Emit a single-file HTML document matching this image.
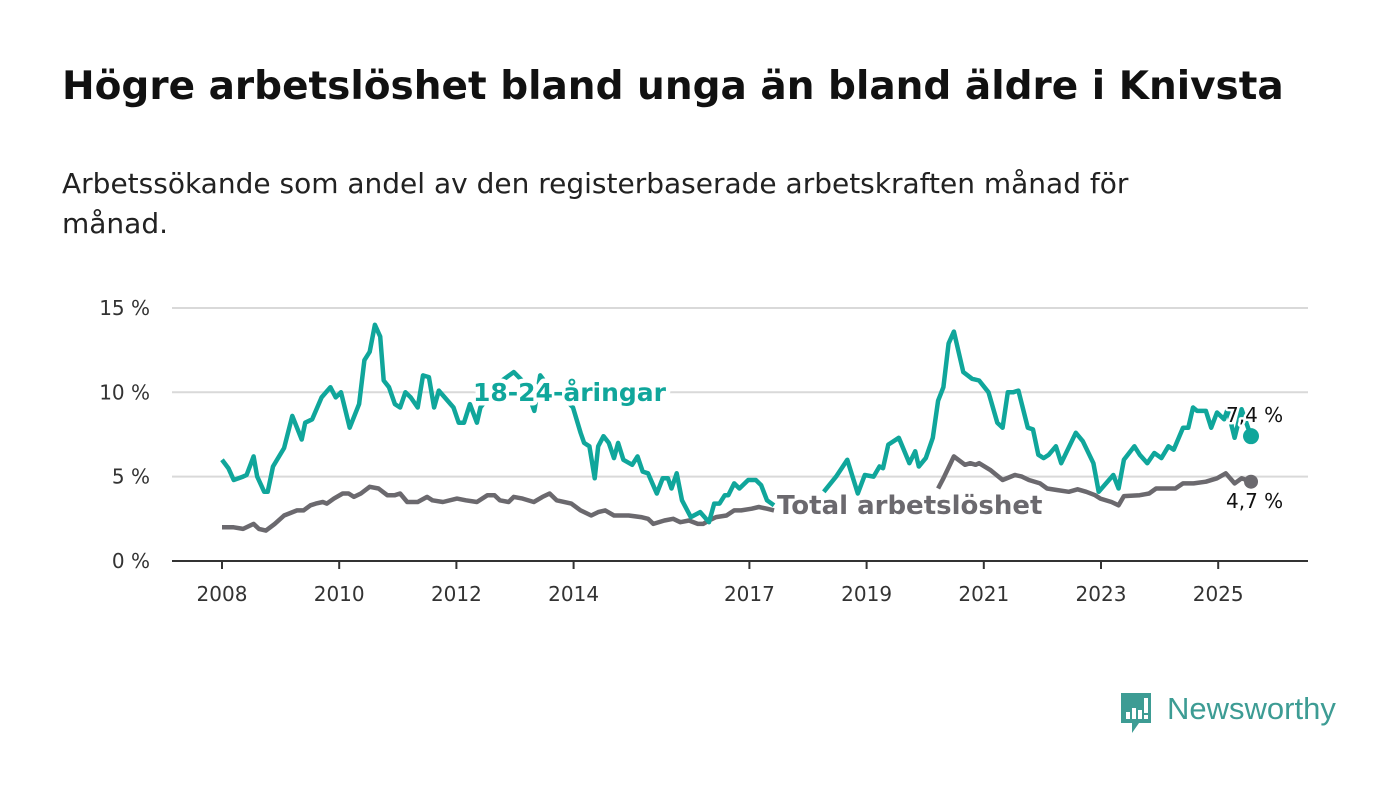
<!DOCTYPE html>
<html><head><meta charset="utf-8"><style>
html,body{margin:0;padding:0;background:#fff;}
body{width:1400px;height:794px;position:relative;overflow:hidden;font-family:"DejaVu Sans",sans-serif;}
#title{position:absolute;left:62px;top:64px;font-size:39px;font-weight:bold;color:#111;margin:0;white-space:nowrap;font-family:"DejaVu Sans",sans-serif;}
#sub{position:absolute;left:62px;top:164px;width:1180px;font-size:28px;line-height:40px;color:#222;font-family:"DejaVu Sans",sans-serif;}
svg{position:absolute;left:0;top:0;}
</style></head><body>
<h1 id="title">Högre arbetslöshet bland unga än bland äldre i Knivsta</h1>
<div id="sub">Arbetssökande som andel av den registerbaserade arbetskraften månad för månad.</div>
<svg id="chart" width="1400" height="794"></svg>
<script>
const yTicks=[0,5,10,15];
const yTickLabels=["0 %","5 %","10 %","15 %"];
const xTicks=[2008,2010,2012,2014,2017,2019,2021,2023,2025];
const youthT=[2008.0,2008.11,2008.2,2008.36,2008.42,2008.54,2008.6,2008.72,2008.78,2008.87,2009.06,2009.2,2009.36,2009.42,2009.54,2009.7,2009.85,2009.94,2010.03,2010.18,2010.34,2010.43,2010.52,2010.61,2010.7,2010.76,2010.85,2010.95,2011.04,2011.13,2011.22,2011.34,2011.43,2011.53,2011.62,2011.7,2011.8,2011.95,2012.04,2012.13,2012.23,2012.35,2012.41,2012.5,2012.7,2012.98,2013.15,2013.33,2013.43,2013.6,2013.8,2013.99,2014.12,2014.18,2014.27,2014.36,2014.42,2014.51,2014.6,2014.69,2014.76,2014.85,2015.0,2015.09,2015.18,2015.27,2015.42,2015.52,2015.61,2015.67,2015.76,2015.85,2016.0,2016.16,2016.31,2016.4,2016.49,2016.58,2016.64,2016.74,2016.83,2016.98,2017.11,2017.2,2017.3,2017.42,2017.8,2018.27,2018.48,2018.67,2018.85,2018.97,2019.12,2019.22,2019.28,2019.37,2019.55,2019.73,2019.83,2019.89,2020.01,2020.13,2020.22,2020.31,2020.4,2020.49,2020.65,2020.8,2020.92,2021.08,2021.23,2021.32,2021.41,2021.5,2021.59,2021.75,2021.84,2021.93,2022.02,2022.11,2022.23,2022.32,2022.57,2022.69,2022.87,2022.96,2023.21,2023.3,2023.39,2023.57,2023.66,2023.79,2023.91,2024.03,2024.15,2024.24,2024.4,2024.49,2024.57,2024.64,2024.79,2024.88,2024.98,2025.1,2025.16,2025.28,2025.4,2025.56];
const youthV=[6.0,5.5,4.8,5.0,5.1,6.2,5.0,4.1,4.1,5.6,6.7,8.6,7.2,8.2,8.4,9.7,10.3,9.7,10.0,7.9,9.3,11.9,12.4,14.0,13.3,10.7,10.3,9.3,9.1,10.0,9.7,9.1,11.0,10.9,9.1,10.1,9.7,9.1,8.2,8.2,9.3,8.2,9.1,9.5,10.5,11.2,10.6,8.9,11.0,10.2,9.8,9.1,7.6,7.0,6.8,4.9,6.8,7.4,7.0,6.1,7.0,6.0,5.7,6.2,5.3,5.2,4.0,4.9,4.9,4.3,5.2,3.6,2.6,2.9,2.3,3.4,3.4,3.9,3.9,4.6,4.3,4.8,4.8,4.5,3.6,3.3,null,4.1,5.0,6.0,4.0,5.1,5.0,5.6,5.5,6.9,7.3,5.8,6.5,5.6,6.1,7.3,9.5,10.3,12.9,13.6,11.2,10.8,10.7,10.0,8.2,7.9,10.0,10.0,10.1,7.9,7.8,6.3,6.1,6.3,6.8,5.8,7.6,7.1,5.8,4.1,5.1,4.3,6.0,6.8,6.3,5.8,6.4,6.1,6.8,6.6,7.9,7.9,9.1,8.9,8.9,7.9,8.8,8.4,9.0,7.3,9.0,7.4];
const totalT=[2008.0,2008.2,2008.36,2008.54,2008.63,2008.75,2008.9,2009.06,2009.28,2009.39,2009.51,2009.6,2009.72,2009.79,2009.91,2010.06,2010.16,2010.25,2010.37,2010.52,2010.67,2010.82,2010.95,2011.04,2011.16,2011.34,2011.5,2011.59,2011.77,2012.01,2012.16,2012.35,2012.53,2012.65,2012.74,2012.89,2012.98,2013.13,2013.32,2013.47,2013.59,2013.71,2013.96,2014.12,2014.3,2014.42,2014.54,2014.69,2014.94,2015.15,2015.27,2015.36,2015.55,2015.7,2015.82,2015.97,2016.12,2016.21,2016.31,2016.43,2016.61,2016.74,2016.86,2017.04,2017.16,2017.3,2017.42,2018.5,2020.22,2020.31,2020.49,2020.68,2020.77,2020.86,2020.92,2021.11,2021.32,2021.53,2021.65,2021.77,2021.96,2022.08,2022.26,2022.45,2022.6,2022.75,2022.9,2022.99,2023.18,2023.3,2023.39,2023.66,2023.82,2023.94,2024.27,2024.4,2024.58,2024.79,2024.98,2025.13,2025.28,2025.4,2025.56];
const totalV=[2.0,2.0,1.9,2.2,1.9,1.8,2.2,2.7,3.0,3.0,3.3,3.4,3.5,3.4,3.7,4.0,4.0,3.8,4.0,4.4,4.3,3.9,3.9,4.0,3.5,3.5,3.8,3.6,3.5,3.7,3.6,3.5,3.9,3.9,3.6,3.5,3.8,3.7,3.5,3.8,4.0,3.6,3.4,3.0,2.7,2.9,3.0,2.7,2.7,2.6,2.5,2.2,2.4,2.5,2.3,2.4,2.2,2.2,2.4,2.6,2.7,3.0,3.0,3.1,3.2,3.1,3.0,null,4.3,4.9,6.2,5.7,5.8,5.7,5.8,5.4,4.8,5.1,5.0,4.8,4.6,4.3,4.2,4.1,4.25,4.1,3.9,3.7,3.5,3.3,3.85,3.9,4.0,4.3,4.3,4.6,4.6,4.7,4.9,5.2,4.6,4.9,4.7];
const youthEnd="7,4 %", totalEnd="4,7 %";

const NS="http://www.w3.org/2000/svg";
const svg=document.getElementById('chart');
const X0=172,X1=1308;
const xs=y=>222+(y-2008)*58.6;
const ys=v=>561-v*16.87;
function mk(tag,attrs,parent){const e=document.createElementNS(NS,tag);for(const k in attrs)e.setAttribute(k,attrs[k]);(parent||svg).appendChild(e);return e;}

yTicks.forEach((t,i)=>{
  if(t>0){const g=mk('line',{x1:X0,x2:X1,y1:ys(t),y2:ys(t),stroke:'#d9d9d9','stroke-width':2});
  
  }
  const tx=mk('text',{x:150,y:ys(t)+7,'text-anchor':'end','font-size':20,fill:'#333'});
  tx.textContent=yTickLabels[i];
  
  
});
const ax=mk('line',{x1:X0,x2:X1,y1:561,y2:561,stroke:'#333','stroke-width':2});


xTicks.forEach(t=>{
  const tk=mk('line',{x1:xs(t),x2:xs(t),y1:561,y2:569,stroke:'#333','stroke-width':2});
  
  
  const tx=mk('text',{x:xs(t),y:601,'text-anchor':'middle','font-size':20,fill:'#333'});
  tx.textContent=t;
  
  
});
function path(T,V){let d='',pen=false;T.forEach((t,i)=>{if(V[i]===null){pen=false;return;}d+=(pen?'L':'M')+xs(t).toFixed(1)+','+ys(V[i]).toFixed(1);pen=true;});return d;}
const tl=mk('path',{d:path(totalT,totalV),fill:'none',stroke:'#6b696e','stroke-width':4.5,'stroke-linejoin':'round'});


const yl=mk('path',{d:path(youthT,youthV),fill:'none',stroke:'#10a69b','stroke-width':4.5,'stroke-linejoin':'round'});


const td=mk('circle',{cx:xs(totalT[totalT.length-1]),cy:ys(totalV[totalV.length-1]),r:7,fill:'#6b696e'});


const yd=mk('circle',{cx:xs(youthT[youthT.length-1]),cy:ys(youthV[youthV.length-1]),r:8,fill:'#10a69b'});



function label(txt,x,y,fill,size,bold,name){
  const t=mk('text',{x:x,y:y,'font-size':size,'font-weight':bold?'bold':'normal',fill:fill,stroke:'#fff','stroke-width':bold?9:5,'paint-order':'stroke','stroke-linejoin':'round'});
  t.textContent=txt;
  
  
}
label('18-24-åringar',473,401,'#10a69b',25,true,'youth-series-label');
label('Total arbetslöshet',777,514,'#6b696e',26,true,'total-series-label');
label(youthEnd,1226,422,'#111',20,false,'youth-end-value');
label(totalEnd,1226,508,'#111',20,false,'total-end-value');
</script>
<div style="position:absolute;left:1119px;top:691px;width:220px;height:44px;">
<svg width="36" height="44" style="position:absolute;left:0;top:0">
<path d="M2,2 H32 V32 H20 L13,42 V32 H2 Z" fill="#3d9c94"/>
<rect x="7" y="21" width="4" height="7" fill="#fff"/><rect x="13" y="17" width="4" height="11" fill="#fff"/><rect x="19" y="19" width="4" height="9" fill="#fff"/><rect x="25" y="7" width="4" height="15" fill="#fff"/><rect x="25" y="24" width="4" height="4" fill="#fff"/>
</svg>
<span style="position:absolute;left:48px;top:0px;font-size:31px;color:#3d9c94;font-family:'Liberation Sans',sans-serif;">Newsworthy</span>
</div>
</body></html>
